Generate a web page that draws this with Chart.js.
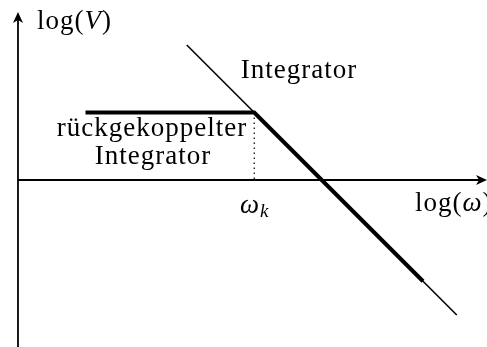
<!DOCTYPE html>
<html>
<head>
<meta charset="utf-8">
<title>Bode-Diagramm Integrator</title>
<script src="https://cdn.jsdelivr.net/npm/chart.js@4.4.0/dist/chart.umd.min.js"></script>
<style>
  html, body { margin: 0; padding: 0; background: #fff; }
  #wrap { width: 487px; height: 347px; position: relative; }
</style>
</head>
<body>
<div id="wrap"><canvas id="bode"></canvas></div>
<script>
// Asymptotes in log units: ideal integrator and the fed-back integrator
const integratorLogW = [5, 13];
const integratorLogV = [4, -4];
const feedbackLogW = [2, 7, 12];
const feedbackLogV = [2, 2, -3];
const cornerLogW = 7;
const cornerLogV = 2;

const axisLabels = ['log(', 'V', ')', 'log(', 'ω', ')'];
const curveLabels = ['Integrator', 'rückgekoppelter', 'Integrator'];
const cornerLabel = ['ω', 'k'];

const toPoints = (xs, ys) => xs.map((x, i) => ({ x: x, y: ys[i] }));

const SERIF = '"Liberation Serif", "DejaVu Serif", serif';

// Axes with arrow heads plus all text labels
const annotate = {
  id: 'annotate',
  afterDatasetsDraw(chart) {
    const { ctx, scales: { x, y }, chartArea } = chart;
    const x0 = x.getPixelForValue(0);
    const y0 = y.getPixelForValue(0);
    const top = 12;
    const right = chartArea.right;

    ctx.save();
    ctx.strokeStyle = '#000';
    ctx.fillStyle = '#000';
    ctx.lineWidth = 1.8;

    // vertical axis
    ctx.beginPath();
    ctx.moveTo(x0, chartArea.bottom);
    ctx.lineTo(x0, top + 6);
    ctx.stroke();
    ctx.beginPath();
    ctx.moveTo(x0, top);
    ctx.lineTo(x0 - 5, top + 11);
    ctx.lineTo(x0, top + 8);
    ctx.lineTo(x0 + 5, top + 11);
    ctx.closePath();
    ctx.fill();

    // horizontal axis
    ctx.beginPath();
    ctx.moveTo(x0, y0);
    ctx.lineTo(right - 6, y0);
    ctx.stroke();
    ctx.beginPath();
    ctx.moveTo(right, y0);
    ctx.lineTo(right - 11, y0 - 5);
    ctx.lineTo(right - 8, y0);
    ctx.lineTo(right - 11, y0 + 5);
    ctx.closePath();
    ctx.fill();

    // draws pieces one after another, italic where asked
    const run = (parts, left, base, size, spacing) => {
      let cx = left;
      parts.forEach(p => {
        ctx.font = (p.it ? 'italic ' : '') + size + 'px ' + SERIF;
        ctx.letterSpacing = spacing + 'px';
        ctx.fillText(p.t, cx, base + (p.dy || 0));
        cx += ctx.measureText(p.t).width;
      });
    };

    ctx.textAlign = 'left';
    ctx.textBaseline = 'alphabetic';
    run([{ t: axisLabels[0] }, { t: axisLabels[1], it: true }, { t: axisLabels[2] }], 37, 29, 27, 1);
    run([{ t: axisLabels[3] }, { t: axisLabels[4], it: true }, { t: axisLabels[5] }], 415, 211, 27, 1);

    // corner frequency label
    ctx.font = 'italic 27px ' + SERIF;
    ctx.letterSpacing = '0px';
    ctx.fillText(cornerLabel[0], 240, 213);
    const wW = ctx.measureText(cornerLabel[0]).width;
    ctx.font = 'italic 19px ' + SERIF;
    ctx.fillText(cornerLabel[1], 240 + wW + 1, 217);

    ctx.textAlign = 'center';
    ctx.font = '27px ' + SERIF;
    ctx.letterSpacing = '1px';
    ctx.fillText(curveLabels[0], 299, 78);
    ctx.fillText(curveLabels[1], 152, 136);
    ctx.fillText(curveLabels[2], 153, 164);
    ctx.restore();
  }
};

function drawChart() {
  new Chart(document.getElementById('bode'), {
    type: 'scatter',
    data: {
      datasets: [
        {
          data: toPoints(integratorLogW, integratorLogV),
          showLine: true,
          borderColor: '#000',
          borderWidth: 1.6,
          pointRadius: 0
        },
        {
          data: toPoints(feedbackLogW, feedbackLogV),
          showLine: true,
          borderColor: '#000',
          borderWidth: 4,
          borderCapStyle: 'butt',
          borderJoinStyle: 'miter',
          pointRadius: 0
        },
        {
          data: [{ x: cornerLogW, y: cornerLogV }, { x: cornerLogW, y: 0 }],
          showLine: true,
          borderColor: '#000',
          borderWidth: 1.2,
          borderDash: [1.4, 3.6],
          pointRadius: 0
        }
      ]
    },
    options: {
      responsive: true,
      maintainAspectRatio: false,
      animation: false,
      events: [],
      layout: { padding: 0 },
      scales: {
        x: { type: 'linear', min: -0.533, max: 13.896, display: false },
        y: { type: 'linear', min: -4.948, max: 5.333, display: false }
      },
      plugins: {
        legend: { display: false },
        tooltip: { enabled: false }
      }
    },
    plugins: [annotate]
  });
}

// make sure the serif face is ready before the canvas text is drawn
Promise.all([
  document.fonts.load('27px "Liberation Serif"'),
  document.fonts.load('italic 27px "Liberation Serif"')
]).then(drawChart, drawChart);
</script>
</body>
</html>
